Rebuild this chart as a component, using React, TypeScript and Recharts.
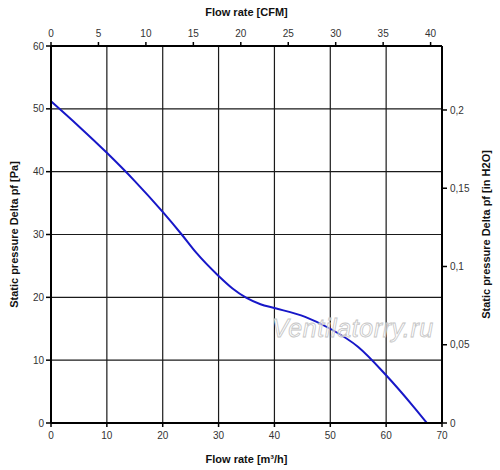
import { LineChart, Line, XAxis, YAxis, CartesianGrid, Label } from 'recharts'

// flow rate in m³/h, static pressure in Pa
const flowM3h = [0, 5, 10, 15, 20, 23.4, 26, 30, 32.5, 35, 37.5, 40, 45.5, 50, 55, 60, 65, 67.3]
const pressurePa = [51.2, 47.2, 43.0, 38.5, 33.6, 30, 27.1, 23.4, 21.4, 19.9, 18.9, 18.3, 16.9, 15.0, 12.1, 7.6, 2.5, 0]

const m3hTicks = [0, 10, 20, 30, 40, 50, 60, 70]
const cfmTicks = [0, 5, 10, 15, 20, 25, 30, 35, 40]
const paTicks = [0, 10, 20, 30, 40, 50, 60]
const inH2OTicks = [0, 0.05, 0.1, 0.15, 0.2]

const M3H_PER_CFM = 1.699
const PA_PER_INH2O = 249.09

const data = flowM3h.map((flow, i) => ({ flow, pa: pressurePa[i] }))

const FONT = '"Liberation Sans", Arial, sans-serif'
const tickStyle = { fontSize: 10, fill: '#333', fontFamily: FONT }
const axisLine = { stroke: '#000', strokeWidth: 2 }
const tickLine = { stroke: '#000', strokeWidth: 1.5 }
const titleStyle = { fontSize: 11, fontWeight: 700, fill: '#111', fontFamily: FONT, textAnchor: 'middle' as const }

export default function App() {
  return (
    <div style={{ position: 'absolute', left: 0, top: 0, width: 500, height: 470, background: '#fff' }}>
      <LineChart width={500} height={470} data={data} margin={{ top: 0, right: 0, bottom: 0, left: 0 }}>
        <CartesianGrid xAxisId="m3" yAxisId="pa" stroke="#1a1a1a" strokeWidth={1.2} />
        <XAxis
          xAxisId="m3"
          dataKey="flow"
          type="number"
          domain={[0, 70]}
          ticks={m3hTicks}
          height={47}
          tick={tickStyle}
          tickSize={4}
          tickMargin={5}
          axisLine={axisLine}
          tickLine={tickLine}
        >
          <Label value="Flow rate [m³/h]" position="insideBottom" offset={7} style={titleStyle} />
        </XAxis>
        <XAxis
          xAxisId="cfm"
          orientation="top"
          dataKey={(d: { flow: number }) => d.flow / M3H_PER_CFM}
          type="number"
          domain={[0, 70 / M3H_PER_CFM]}
          allowDataOverflow
          ticks={cfmTicks}
          height={46}
          tick={tickStyle}
          tickSize={4}
          tickMargin={5}
          axisLine={axisLine}
          tickLine={tickLine}
        >
          <Label value="Flow rate [CFM]" position="insideTop" offset={8} style={titleStyle} />
        </XAxis>
        <YAxis
          yAxisId="pa"
          type="number"
          domain={[0, 60]}
          ticks={paTicks}
          width={51}
          tick={tickStyle}
          tickSize={5}
          tickMargin={2}
          axisLine={axisLine}
          tickLine={tickLine}
        >
          <Label
            value="Static pressure Delta pf [Pa]"
            angle={-90}
            position="insideLeft"
            offset={14}
            style={titleStyle}
          />
        </YAxis>
        <YAxis
          yAxisId="inh2o"
          orientation="right"
          type="number"
          domain={[0, 60 / PA_PER_INH2O]}
          allowDataOverflow
          ticks={inH2OTicks}
          tickFormatter={(v: number) => String(v).replace('.', ',')}
          width={58}
          tick={tickStyle}
          tickSize={5}
          tickMargin={3}
          axisLine={axisLine}
          tickLine={tickLine}
        >
          <Label
            value="Static pressure Delta pf [in H2O]"
            angle={-90}
            position="insideRight"
            offset={14}
            style={titleStyle}
          />
        </YAxis>
        <Line
          xAxisId="m3"
          yAxisId="pa"
          dataKey="pa"
          type="monotone"
          stroke="#1717c8"
          strokeWidth={2}
          dot={false}
          isAnimationActive={false}
        />
      </LineChart>
      <div
        style={{
          position: 'absolute',
          left: 272,
          top: 314,
          fontFamily: FONT,
          fontStyle: 'italic',
          fontSize: 25,
          letterSpacing: 0.6,
          color: 'rgba(255,255,255,0.55)',
          WebkitTextStroke: '0.8px #c4c4c4',
          pointerEvents: 'none',
        }}
      >
        Ventilatorry.ru
      </div>
    </div>
  )
}
